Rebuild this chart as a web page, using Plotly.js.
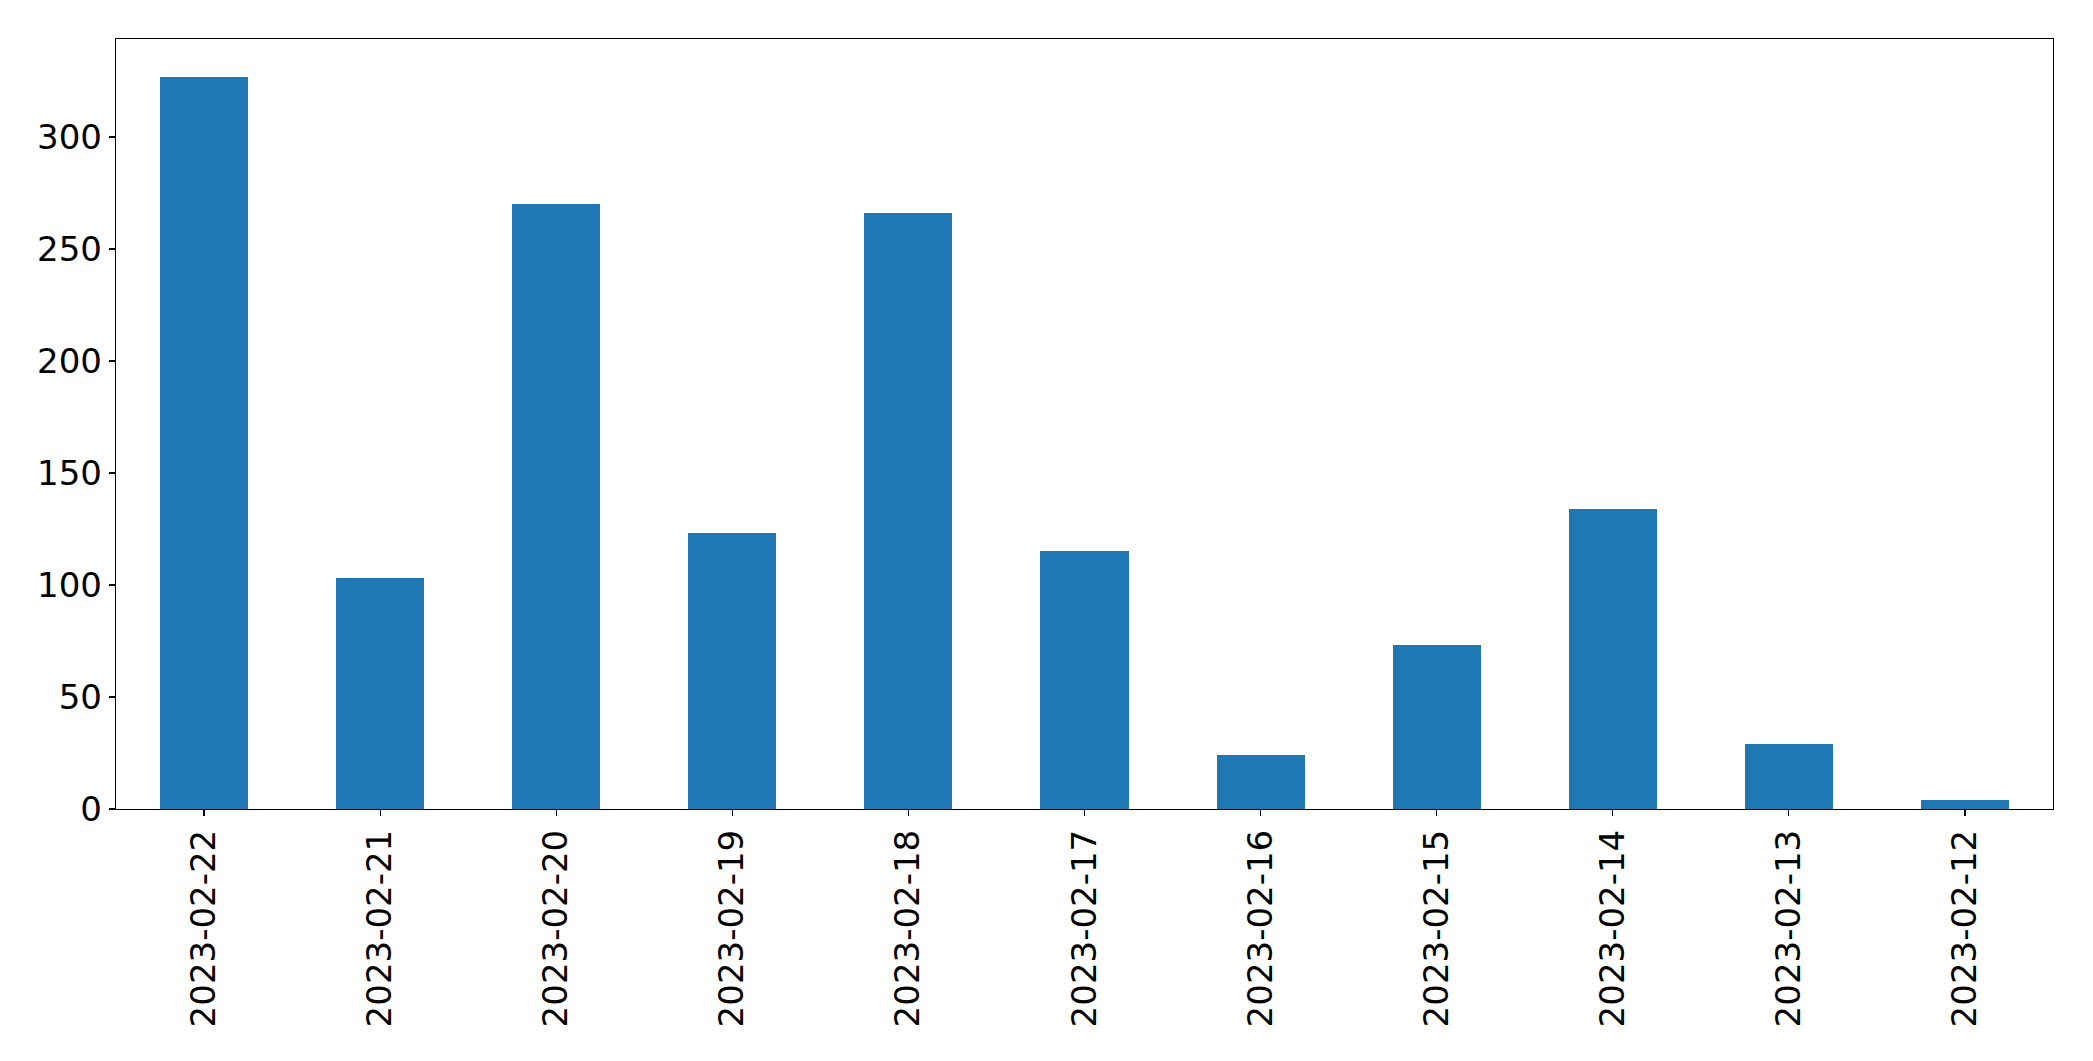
<!DOCTYPE html>
<html>
<head>
<meta charset="utf-8">
<script src="https://cdn.plot.ly/plotly-3.0.1.min.js"></script>
<style>
  html, body { margin: 0; padding: 0; background: #ffffff; }
  #chart { width: 2093px; height: 1061px; }
</style>
</head>
<body>
<div id="chart"></div>
<script>
const dates = ["2023-02-22", "2023-02-21", "2023-02-20", "2023-02-19", "2023-02-18", "2023-02-17", "2023-02-16", "2023-02-15", "2023-02-14", "2023-02-13", "2023-02-12"];
const counts = [327, 103, 270, 123, 266, 115, 24, 73, 134, 29, 4];
const yTicks = [0, 50, 100, 150, 200, 250, 300];

const trace = {
  type: "bar",
  x: dates,
  y: counts,
  width: 0.5,
  marker: { color: "#1f77b4", line: { width: 0 } },
  hoverinfo: "x+y"
};

const axisFont = { family: "DejaVu Sans, sans-serif", size: 34, color: "#000000" };

const layout = {
  width: 2093,
  height: 1061,
  margin: { l: 116, r: 40, t: 39, b: 252, pad: 0 },
  paper_bgcolor: "#ffffff",
  plot_bgcolor: "#ffffff",
  showlegend: false,
  bargap: 0,
  xaxis: {
    type: "category",
    range: [-0.5, dates.length - 0.5],
    showgrid: false,
    zeroline: false,
    showline: true,
    mirror: true,
    linecolor: "#000000",
    linewidth: 1.2,
    ticks: "outside",
    ticklen: 6,
    tickwidth: 1.2,
    tickcolor: "#000000",
    tickangle: -90,
    tickfont: axisFont,
    ticklabelstandoff: 0
  },
  yaxis: {
    range: [0, 343.75],
    tickvals: yTicks,
    ticktext: yTicks.map(String),
    showgrid: false,
    zeroline: false,
    showline: true,
    mirror: true,
    linecolor: "#000000",
    linewidth: 1.2,
    ticks: "outside",
    ticklen: 6,
    tickwidth: 1.2,
    tickcolor: "#000000",
    tickfont: axisFont,
    ticklabelstandoff: 0
  }
};

Plotly.newPlot("chart", [trace], layout, { displayModeBar: false, staticPlot: true });
</script>
</body>
</html>
